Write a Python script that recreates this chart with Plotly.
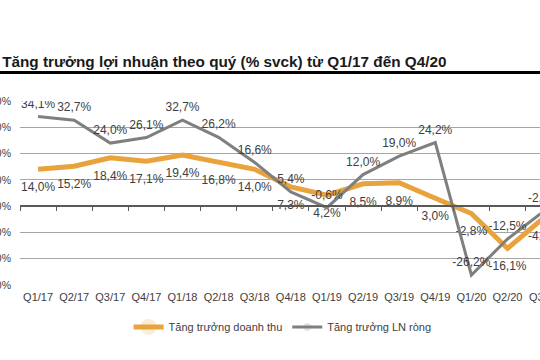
import plotly.graph_objects as go

quarters = ["Q1/17", "Q2/17", "Q3/17", "Q4/17", "Q1/18", "Q2/18", "Q3/18", "Q4/18",
            "Q1/19", "Q2/19", "Q3/19", "Q4/19", "Q1/20", "Q2/20", "Q3/20"]
revenue_growth = [14.0, 15.2, 18.4, 17.1, 19.4, 16.8, 14.0, 7.3,
                  4.2, 8.5, 8.9, 3.0, -2.8, -16.1, -4.5]
profit_growth = [34.1, 32.7, 24.0, 26.1, 32.7, 26.2, 16.6, 5.4,
                 -0.6, 12.0, 19.0, 24.2, -26.2, -12.5, -2.0]
y_ticks = [-30, -20, -10, 0, 10, 20, 30, 40]
y_ticktext = ["-30%", "-20%", "-10%", "0%", "10%", "20%", "30%", "40%"]

FONT = "Arial, Liberation Sans, sans-serif"
ORANGE = "#E8A33C"
GRAY = "#7F7F7F"
idx = list(range(len(quarters)))
X_RANGE = [-0.5, 13.9]


def fmt(v):
    return f"{v:.1f}%".replace(".", ",")


fig = go.Figure()
fig.add_trace(go.Scatter(
    x=idx, y=revenue_growth, name="Tăng trưởng doanh thu",
    mode="lines+markers+text", line=dict(color=ORANGE, width=5),
    marker=dict(size=19, opacity=0),
    text=[fmt(v) for v in revenue_growth], textposition="bottom center",
    textfont=dict(family=FONT, size=12, color="#404040"),
))
fig.add_trace(go.Scatter(
    x=idx, y=profit_growth, name="Tăng trưởng LN ròng",
    mode="lines+markers+text", line=dict(color=GRAY, width=3),
    marker=dict(size=8, opacity=0),
    text=[fmt(v) for v in profit_growth], textposition="top center",
    textfont=dict(family=FONT, size=12, color="#404040"),
))
# invisible trace to host the zero-axis tick marks
fig.add_trace(go.Scatter(x=[0], y=[0], xaxis="x2", mode="none",
                         showlegend=False, hoverinfo="skip"))

# category labels beyond the visible range (cut off by the right edge)
edge_annotations = []
for i, q in zip(idx, quarters):
    if i > X_RANGE[1]:
        edge_annotations.append(dict(
            text=q, xref="paper", yref="paper",
            x=(i - X_RANGE[0]) / (X_RANGE[1] - X_RANGE[0]), y=0,
            xanchor="center", yanchor="top", yshift=-4, showarrow=False,
            font=dict(family=FONT, size=11, color="#404040")))

fig.update_layout(
    width=540, height=360,
    margin=dict(l=20, r=0, t=101, b=75),
    paper_bgcolor="white", plot_bgcolor="white",
    font=dict(family=FONT, color="#404040", size=11),
    title=dict(text="<b>Tăng trưởng lợi nhuận theo quý (% svck) từ Q1/17 đến Q4/20</b>",
               x=0.004, xanchor="left", y=1 - 62 / 360, yanchor="middle",
               font=dict(family=FONT, size=15.3, color="#1a1a1a")),
    xaxis=dict(range=X_RANGE, tickmode="array", tickvals=idx, ticktext=quarters,
               showgrid=False, zeroline=False, showline=False, ticks="",
               ticklabelstandoff=4,
               tickfont=dict(size=11, color="#404040")),
    xaxis2=dict(range=X_RANGE, overlaying="x", anchor="free",
                position=30 / 70, showline=True, linecolor="#595959", linewidth=1.5,
                ticks="outside", ticklen=4, tickcolor="#595959", tickwidth=1,
                tickvals=[i - 0.5 for i in idx] + [len(idx) - 0.5],
                showticklabels=False, showgrid=False, zeroline=False),
    yaxis=dict(range=[-30, 40], tickmode="array", tickvals=y_ticks, ticktext=y_ticktext,
               showgrid=True, gridcolor="#A6A6A6", gridwidth=1.3,
               zeroline=False, showline=False, automargin=False,
               ticklabelstandoff=8,
               tickfont=dict(size=10.5, color="#404040")),
    legend=dict(orientation="h", x=0.505, xanchor="center", y=-0.228, yanchor="middle",
                font=dict(size=11, color="#404040"), itemwidth=30),
    shapes=[dict(type="line", xref="paper", yref="paper", x0=-0.05, x1=1.0,
                 y0=(285 - 72.5) / 184, y1=(285 - 72.5) / 184,
                 line=dict(color="black", width=3))],
    annotations=edge_annotations,
    showlegend=True,
)

fig.write_html("out.html")
